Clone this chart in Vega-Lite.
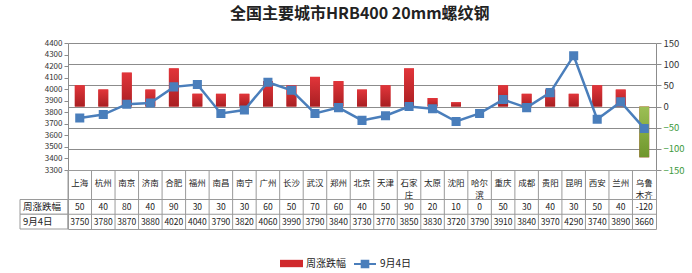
{
  "$schema": "https://vega.github.io/schema/vega-lite/v6.json",
  "padding": {"left": 19, "top": 6, "right": 4, "bottom": 2},
  "title": {"text": "全国主要城市HRB400 20mm螺纹钢", "fontSize": 16, "fontWeight": "bold", "anchor": "middle", "offset": 16, "color": "#222", "dx": 8},
  "datasets": {
    "cities": [
      {"city": "上海", "label": "上海", "chg": 50, "price": 3750},
      {"city": "杭州", "label": "杭州", "chg": 40, "price": 3780},
      {"city": "南京", "label": "南京", "chg": 80, "price": 3870},
      {"city": "济南", "label": "济南", "chg": 40, "price": 3880},
      {"city": "合肥", "label": "合肥", "chg": 90, "price": 4020},
      {"city": "福州", "label": "福州", "chg": 30, "price": 4040},
      {"city": "南昌", "label": "南昌", "chg": 30, "price": 3790},
      {"city": "南宁", "label": "南宁", "chg": 30, "price": 3820},
      {"city": "广州", "label": "广州", "chg": 60, "price": 4060},
      {"city": "长沙", "label": "长沙", "chg": 50, "price": 3990},
      {"city": "武汉", "label": "武汉", "chg": 70, "price": 3790},
      {"city": "郑州", "label": "郑州", "chg": 60, "price": 3840},
      {"city": "北京", "label": "北京", "chg": 40, "price": 3730},
      {"city": "天津", "label": "天津", "chg": 50, "price": 3770},
      {"city": "石家庄", "label": "石家\n庄", "chg": 90, "price": 3850},
      {"city": "太原", "label": "太原", "chg": 20, "price": 3830},
      {"city": "沈阳", "label": "沈阳", "chg": 10, "price": 3720},
      {"city": "哈尔滨", "label": "哈尔\n滨", "chg": 0, "price": 3790},
      {"city": "重庆", "label": "重庆", "chg": 50, "price": 3910},
      {"city": "成都", "label": "成都", "chg": 30, "price": 3840},
      {"city": "贵阳", "label": "贵阳", "chg": 40, "price": 3970},
      {"city": "昆明", "label": "昆明", "chg": 30, "price": 4290},
      {"city": "西安", "label": "西安", "chg": 50, "price": 3740},
      {"city": "兰州", "label": "兰州", "chg": 40, "price": 3890},
      {"city": "乌鲁木齐", "label": "乌鲁\n木齐", "chg": -120, "price": 3660}
    ]
  },
  "columns": 2,
  "spacing": 0,
  "bounds": "flush",
  "concat": [
    {
      "width": 48, "height": 127,
      "view": {"stroke": null},
      "data": {"values": []},
      "mark": "point",
      "encoding": {}
    },
    {
      "width": 588, "height": 127,
      "view": {"stroke": null},
      "data": {"name": "cities"},
      "encoding": {
        "x": {"field": "city", "type": "nominal", "sort": null,
          "scale": {"domain": ["上海","杭州","南京","济南","合肥","福州","南昌","南宁","广州","长沙","武汉","郑州","北京","天津","石家庄","太原","沈阳","哈尔滨","重庆","成都","贵阳","昆明","西安","兰州","乌鲁木齐"], "paddingInner": 0, "paddingOuter": 0},
          "axis": null}
      },
      "layer": [
        {
          "mark": {"type": "bar", "width": {"band": 0.42}},
          "encoding": {
            "y": {"field": "chg", "type": "quantitative",
              "scale": {"domain": [-150, 150], "nice": false, "zero": true},
              "axis": {"orient": "right", "title": null, "values": [-150, -100, -50, 0, 50, 100, 150],
                "grid": true, "gridColor": "#8c8c8c", "gridWidth": 1,
                "domainColor": "#8c8c8c", "tickColor": "#8c8c8c", "tickSize": 5,
                "labelFontSize": 9.5, "labelPadding": 2, "format": "d",
                "labelColor": {"condition": {"test": "datum.value < 0", "value": "#3e9a3e"}, "value": "#333333"}}},
            "fill": {"datum": "周涨跌幅", "type": "nominal", "scale": {"range": ["#d0292d"]},
              "legend": {"title": null, "orient": "none", "legendX": 260, "legendY": 209,
                "symbolType": "M-1,-0.32H1V0.32H-1Z", "symbolSize": 529, "symbolStrokeWidth": 0,
                "labelFontSize": 10, "labelColor": "#222", "labelOffset": 3}}
          }
        },
        {
          "mark": {"type": "bar", "width": {"band": 0.42}},
          "encoding": {
            "y": {"field": "chg", "type": "quantitative",
              "scale": {"domain": [-150, 150], "nice": false, "zero": true}, "axis": null},
            "fill": {
              "condition": {"test": "datum.chg < 0", "value": {"gradient": "linear", "x1": 0, "y1": 0, "x2": 0, "y2": 1, "stops": [{"offset": 0, "color": "#9cbf55"}, {"offset": 1, "color": "#6f962c"}]}},
              "value": {"gradient": "linear", "x1": 0, "y1": 0, "x2": 0, "y2": 1, "stops": [{"offset": 0, "color": "#e2353a"}, {"offset": 1, "color": "#a81f22"}]}
            }
          }
        },
        {
          "mark": {"type": "line", "strokeWidth": 2.5,
            "point": {"shape": "square", "size": 50, "filled": true, "color": "#4a7ebb"}},
          "encoding": {
            "y": {"field": "price", "type": "quantitative",
              "scale": {"domain": [3300, 4400], "nice": false, "zero": false},
              "axis": {"orient": "left", "title": null, "values": [3300,3400,3500,3600,3700,3800,3900,4000,4100,4200,4300,4400],
                "grid": false, "domainColor": "#8c8c8c", "tickColor": "#8c8c8c", "tickSize": 4, "format": "d",
                "labelFontSize": 8, "labelColor": "#333333", "labelPadding": 2}},
            "stroke": {"datum": "9月4日", "type": "nominal", "scale": {"range": ["#4a7ebb"]},
              "legend": {"title": null, "orient": "none", "legendX": 333, "legendY": 209,
                "symbolType": "M-1,0H1M-0.3,-0.3H0.3V0.3H-0.3Z", "symbolSize": 484, "symbolStrokeWidth": 2,
                "labelFontSize": 10, "labelColor": "#222", "labelOffset": 3,
                "encode": {"symbols": {"update": {"fill": {"value": "#4a7ebb"}}}}}}
          }
        }
      ],
      "resolve": {"scale": {"y": "independent"}}
    },
    {
      "width": 48, "height": 59,
      "view": {"stroke": null},
      "data": {"values": [{"row": "chg", "label": "周涨跌幅"}, {"row": "price", "label": "9月4日"}]},
      "encoding": {
        "y": {"field": "row", "type": "nominal", "scale": {"domain": ["c1", "c2", "chg", "price"], "paddingInner": 0, "paddingOuter": 0}, "axis": null}
      },
      "layer": [
        {"mark": {"type": "rect", "fill": "white", "stroke": "#9a9a9a", "strokeWidth": 1}},
        {"mark": {"type": "text", "align": "left", "dx": -21, "fontSize": 9.5, "color": "#222"},
         "encoding": {"text": {"field": "label", "type": "nominal"}}}
      ]
    },
    {
      "width": 588, "height": 59,
      "view": {"stroke": "#9a9a9a"},
      "data": {"name": "cities"},
      "encoding": {
        "x": {"field": "city", "type": "nominal", "sort": null,
          "scale": {"domain": ["上海","杭州","南京","济南","合肥","福州","南昌","南宁","广州","长沙","武汉","郑州","北京","天津","石家庄","太原","沈阳","哈尔滨","重庆","成都","贵阳","昆明","西安","兰州","乌鲁木齐"], "paddingInner": 0, "paddingOuter": 0},
          "axis": null}
      },
      "layer": [
        {"mark": {"type": "rule", "color": "#9a9a9a"},
         "encoding": {"x": {"field": "city", "type": "nominal", "bandPosition": 0}}},
        {"data": {"values": [{"row": "chg"}, {"row": "price"}]},
         "mark": {"type": "rule", "color": "#9a9a9a"},
         "encoding": {"x": null, "y": {"field": "row", "type": "nominal", "bandPosition": 0, "scale": {"domain": ["c1", "c2", "chg", "price"], "paddingInner": 0, "paddingOuter": 0}, "axis": null}}},
        {"mark": {"type": "text", "fontSize": 8.5, "lineBreak": "\n", "baseline": "middle", "lineHeight": 12.5, "dy": -2, "color": "#222"},
         "encoding": {"y": {"datum": "c2", "type": "nominal", "bandPosition": 0}, "text": {"field": "label", "type": "nominal"}}},
        {"mark": {"type": "text", "fontSize": 8.5, "color": "#222"},
         "encoding": {"y": {"datum": "chg", "type": "nominal"}, "text": {"field": "chg", "type": "nominal"}}},
        {"mark": {"type": "text", "fontSize": 8.5, "color": "#222"},
         "encoding": {"y": {"datum": "price", "type": "nominal"}, "text": {"field": "price", "type": "nominal"}}}
      ]
    }
  ],
  "config": {
    "font": "Noto Sans CJK SC",
    "view": {"stroke": null}
  }
}
